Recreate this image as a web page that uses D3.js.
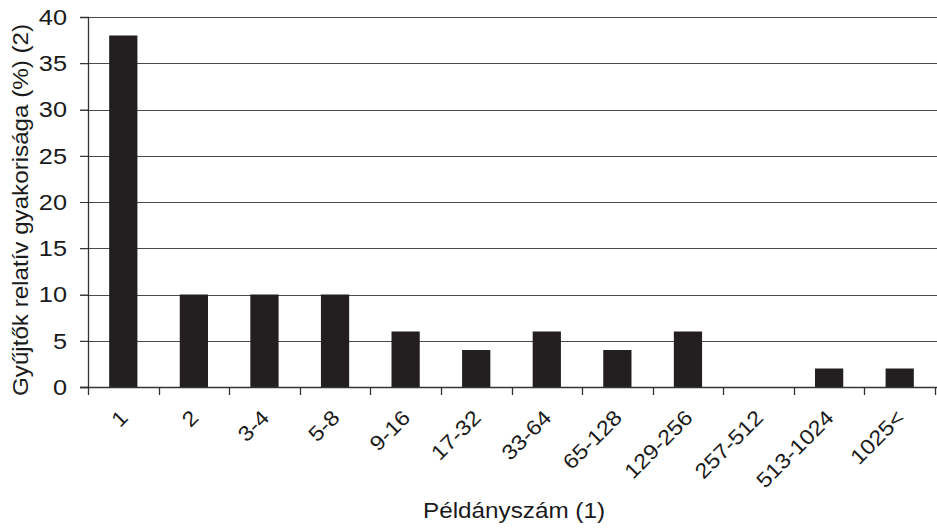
<!DOCTYPE html>
<html><head><meta charset="utf-8">
<script src="https://cdn.jsdelivr.net/npm/d3@7"></script>
<style>body{margin:0;background:#fff}svg{display:block;font-family:"Liberation Sans",Arial,sans-serif}</style>
</head><body><svg id="c" width="937" height="530"></svg>
<script>
const categories = ["1","2","3-4","5-8","9-16","17-32","33-64","65-128","129-256","257-512","513-1024","1025<"];
const values = [38,10,10,10,6,4,6,4,6,0,2,2];
const yTicks = [0,5,10,15,20,25,30,35,40];
const xTitle = "Példányszám (1)";
const yTitle = "Gyűjtők relatív gyakorisága (%) (2)";

const svg = d3.select("#c");
const L = 88, R = 935, T = 17, B = 387;
const x = d3.scaleBand().domain(categories).range([L, R]).paddingInner(0.6).paddingOuter(0.3);
const xb = d3.scaleBand().domain(categories).range([L, R]);
const y = d3.scaleLinear().domain([0, 40]).range([B, T]);
const ink = "#1a1a1a";

// gridlines
svg.append("g").selectAll("line").data(yTicks.filter(d=>d>0)).join("line")
  .attr("x1", L-8).attr("x2", 937).attr("y1", d=>Math.round(y(d))+0.5).attr("y2", d=>Math.round(y(d))+0.5)
  .attr("stroke", "#4a4a4a").attr("stroke-width", 1.2);

// bars
svg.append("g").selectAll("rect").data(values).join("rect")
  .attr("x", (d,i)=>x(categories[i])).attr("width", x.bandwidth())
  .attr("y", d=>y(d)).attr("height", d=>B - y(d)).attr("fill", "#231f20");

// y axis
const ya = svg.append("g").attr("transform", `translate(${L},0)`)
  .call(d3.axisLeft(y).tickValues(yTicks).tickSize(8).tickPadding(5));
ya.select(".domain").attr("stroke", "#333").attr("stroke-width", 1.3);
ya.selectAll(".tick line").attr("stroke", "#333");
ya.selectAll(".tick text").remove();
svg.append("g").selectAll("text").data(yTicks).join("text")
  .attr("transform", d=>`translate(67,${y(d)}) scale(1.15,1)`)
  .attr("text-anchor", "end").attr("dy", "0.36em")
  .attr("font-size", 22).attr("fill", ink).text(d=>d);

// x axis baseline and ticks between bands
svg.append("line").attr("x1", L-8).attr("x2", 937).attr("y1", B+0.5).attr("y2", B+0.5).attr("stroke", "#333").attr("stroke-width", 1.5);
const bounds = categories.map(c=>xb(c)).concat([R]);
svg.append("g").selectAll("line").data(bounds).join("line")
  .attr("x1", d=>Math.round(d)+0.5).attr("x2", d=>Math.round(d)+0.5).attr("y1", B).attr("y2", B+8)
  .attr("stroke", "#333").attr("stroke-width", 1.3);

// x labels
svg.append("g").selectAll("text").data(categories).join("text")
  .attr("transform", d=>`translate(${xb(d)+xb.bandwidth()/2+6},${B+32}) rotate(-45) scale(1.12,1)`)
  .attr("text-anchor", "end")
  .attr("font-size", 21).attr("fill", ink).text(d=>d);

// titles
svg.append("text").attr("x", 514).attr("y", 518).attr("text-anchor", "middle")
  .attr("font-size", 22).attr("fill", ink)
  .attr("textLength", 182).attr("lengthAdjust", "spacingAndGlyphs").text(xTitle);
svg.append("text").attr("transform", `translate(28,210) rotate(-90)`).attr("text-anchor", "middle")
  .attr("font-size", 22).attr("fill", ink)
  .attr("textLength", 372).attr("lengthAdjust", "spacingAndGlyphs").text(yTitle);
</script></body></html>
